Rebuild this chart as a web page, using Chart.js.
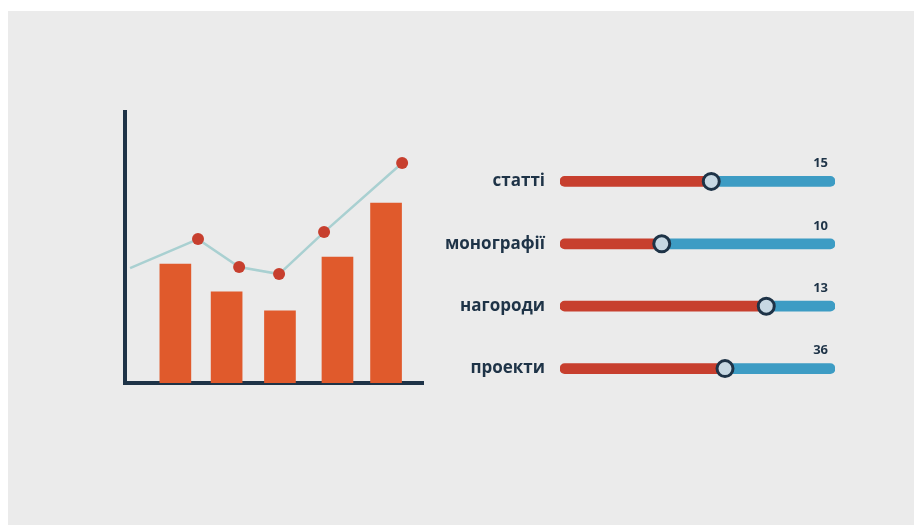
<!DOCTYPE html>
<html>
<head>
<meta charset="utf-8">
<script src="https://cdn.jsdelivr.net/npm/chart.js@4.4.0/dist/chart.umd.min.js"></script>
<style>
  html, body { margin: 0; padding: 0; background: #fff; width: 914px; height: 525px; overflow: hidden; }
  #panel { position: absolute; left: 8px; top: 11px; width: 906px; height: 514px; background: #ebebeb; }
  #trend { position: absolute; left: 100px; top: 95px; }
  #levels { position: absolute; left: 430px; top: 125px; }
</style>
</head>
<body>
<div id="panel"></div>
<canvas id="trend" width="340" height="300"></canvas>
<canvas id="levels" width="430" height="300"></canvas>
<script>
// left chart: bars and the line over them (x and y on a 0..100 scale)
const barX = [16.9, 34.1, 52, 71.3, 87.6]
const barY = [43.9, 33.6, 26.6, 46.5, 66.4]
const lineX = [1.7, 24.5, 38.3, 51.7, 66.8, 93]
const lineY = [42.4, 53.1, 42.8, 40.2, 55.7, 81.2]

// right chart: sliders
const categories = ['статті', 'монографії', 'нагороди', 'проекти']
const counts = [15, 10, 13, 36]
const levels = [55, 37, 75, 60]
const trackMax = 100

const navy = '#1e3347'
const orange = '#e05a2c'
const red = '#c73f2e'
const blue = '#3d9cc4'
const font = '"Open Sans", "DejaVu Sans", sans-serif'

const axisOpts = {
  type: 'linear',
  min: 0,
  max: 100,
  grid: { display: false, drawTicks: false },
  ticks: { display: false },
  border: { display: true, color: navy, width: 4 }
}

new Chart(document.getElementById('trend'), {
  type: 'bar',
  data: {
    datasets: [
      {
        type: 'line',
        data: lineX.map((x, i) => ({ x, y: lineY[i] })),
        borderColor: '#a9d0d1',
        borderWidth: 2.5,
        pointRadius: lineX.map((x, i) => i === 0 ? 0 : 6),
        pointBackgroundColor: red,
        pointBorderWidth: 0,
        order: 0
      },
      {
        data: barX.map((x, i) => ({ x, y: barY[i] })),
        backgroundColor: orange,
        barThickness: 31,
        order: 1
      }
    ]
  },
  options: {
    responsive: false,
    animation: false,
    layout: { padding: { left: 25, top: 17, right: 17, bottom: 12 } },
    plugins: { legend: { display: false }, tooltip: { enabled: false } },
    scales: {
      x: { ...axisOpts, offset: false },
      y: { ...axisOpts }
    }
  }
})

const countLabels = {
  id: 'countLabels',
  afterDatasetsDraw (chart) {
    const { ctx, scales: { x, y } } = chart
    ctx.save()
    ctx.font = 'bold 13px ' + font
    ctx.fillStyle = navy
    ctx.textAlign = 'right'
    ctx.textBaseline = 'middle'
    counts.forEach((c, i) => {
      ctx.fillText(String(c), x.getPixelForValue(trackMax) - 7, y.getPixelForValue(i) - 18)
    })
    ctx.restore()
  }
}

new Chart(document.getElementById('levels'), {
  type: 'bar',
  data: {
    labels: categories,
    datasets: [
      {
        data: levels.map(v => [0, v]),
        backgroundColor: red,
        borderRadius: 5,
        borderSkipped: 'right',
        grouped: false,
        barThickness: 10,
        order: 2
      },
      {
        data: levels.map(v => [v, trackMax]),
        backgroundColor: blue,
        borderRadius: 5,
        borderSkipped: 'left',
        grouped: false,
        barThickness: 10,
        order: 1
      },
      {
        type: 'line',
        indexAxis: 'y',
        data: levels,
        showLine: false,
        pointRadius: 8,
        pointBorderWidth: 3,
        pointBackgroundColor: '#c7d8e3',
        pointBorderColor: navy,
        order: 0
      }
    ]
  },
  options: {
    indexAxis: 'y',
    responsive: false,
    animation: false,
    layout: { padding: { left: 0, top: 13, right: 25, bottom: 7 } },
    plugins: { legend: { display: false }, tooltip: { enabled: false } },
    scales: {
      x: { min: 0, max: trackMax, display: false },
      y: {
        grid: { display: false, drawTicks: false },
        border: { display: false },
        ticks: { color: navy, padding: 15, font: { family: font, size: 17, weight: 'bold' } },
        afterFit: axis => { axis.width = 130 }
      }
    }
  },
  plugins: [countLabels]
})
</script>
</body>
</html>
